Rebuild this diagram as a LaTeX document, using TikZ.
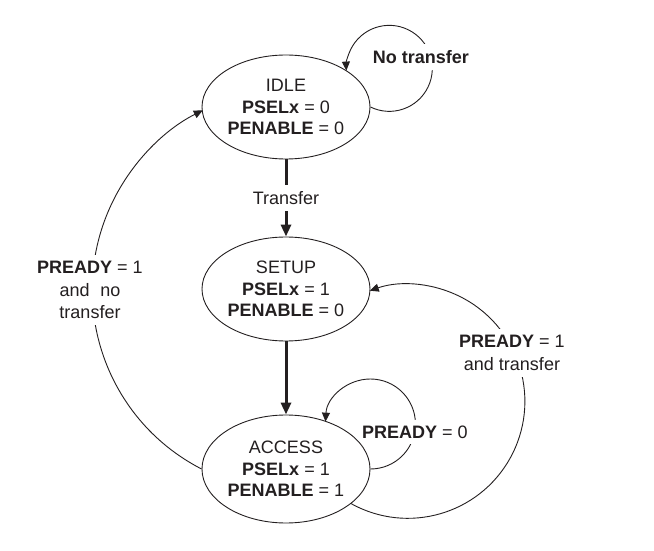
\documentclass[tikz,border=0pt]{standalone}
\usepackage{fontspec}
\setmainfont{Liberation Sans}
\usetikzlibrary{arrows.meta,shapes.geometric}
\pgfdeclarelayer{background}
\pgfsetlayers{background,main}
\definecolor{ink}{RGB}{35,31,32}
\begin{document}
\begin{tikzpicture}[x=1pt,y=1pt,
  every node/.style={text=ink, font=\fontsize{18}{21.5}\selectfont},
  state/.style={ellipse, draw=ink, line width=0.9pt, minimum width=168pt, minimum height=104pt, inner sep=0pt, align=center},
  conn/.style={draw=ink, line width=0.9pt, -{Triangle[length=9pt,width=8pt]}},
  mainconn/.style={draw=ink, line width=3pt, -{Triangle[length=12pt,width=10pt]}},
  lbl/.style={fill=white, align=center, inner xsep=2pt, inner ysep=6pt, font=\fontsize{18}{22.5}\selectfont}]
\useasboundingbox (0,0) rectangle (654,550);
\node[state] (idle) at (286,443) {IDLE\\\textbf{PSELx} = 0\\\textbf{PENABLE} = 0};
\node[state] (setup) at (286,261) {SETUP\\\textbf{PSELx} = 1\\\textbf{PENABLE} = 0};
\node[state, minimum height=108pt] (access) at (286,81) {ACCESS\\\textbf{PSELx} = 1\\\textbf{PENABLE} = 1};
\begin{pgfonlayer}{background}
\draw[mainconn] (idle.south) -- node[lbl] (transfer) {Transfer} (setup.north);
\draw[mainconn] (setup.south) -- (access.north);
\draw[conn] (idle.east) arc[start angle=-116, end angle=183, radius=43];
\node[lbl] (notr) at (421,493) {\textbf{No transfer}};
\draw[conn] (access.east) arc[start angle=-90, end angle=177, radius=45];
\node[lbl] (pr0) at (415,118) {\textbf{PREADY} = 0};
\draw[conn] (access.-28) arc[start angle=-119, end angle=109, radius=117];
\node[lbl] (pr1t) at (512,197) {\textbf{PREADY} = 1\\and transfer};
\draw[conn] (access.west) arc[start angle=-117.2, end angle=-243.2, radius=201.3];
\node[lbl] (pr1n) at (90,260) {\textbf{PREADY} = 1\\and\hspace{0.6em}no\\transfer};
\end{pgfonlayer}
\end{tikzpicture}
\end{document}
